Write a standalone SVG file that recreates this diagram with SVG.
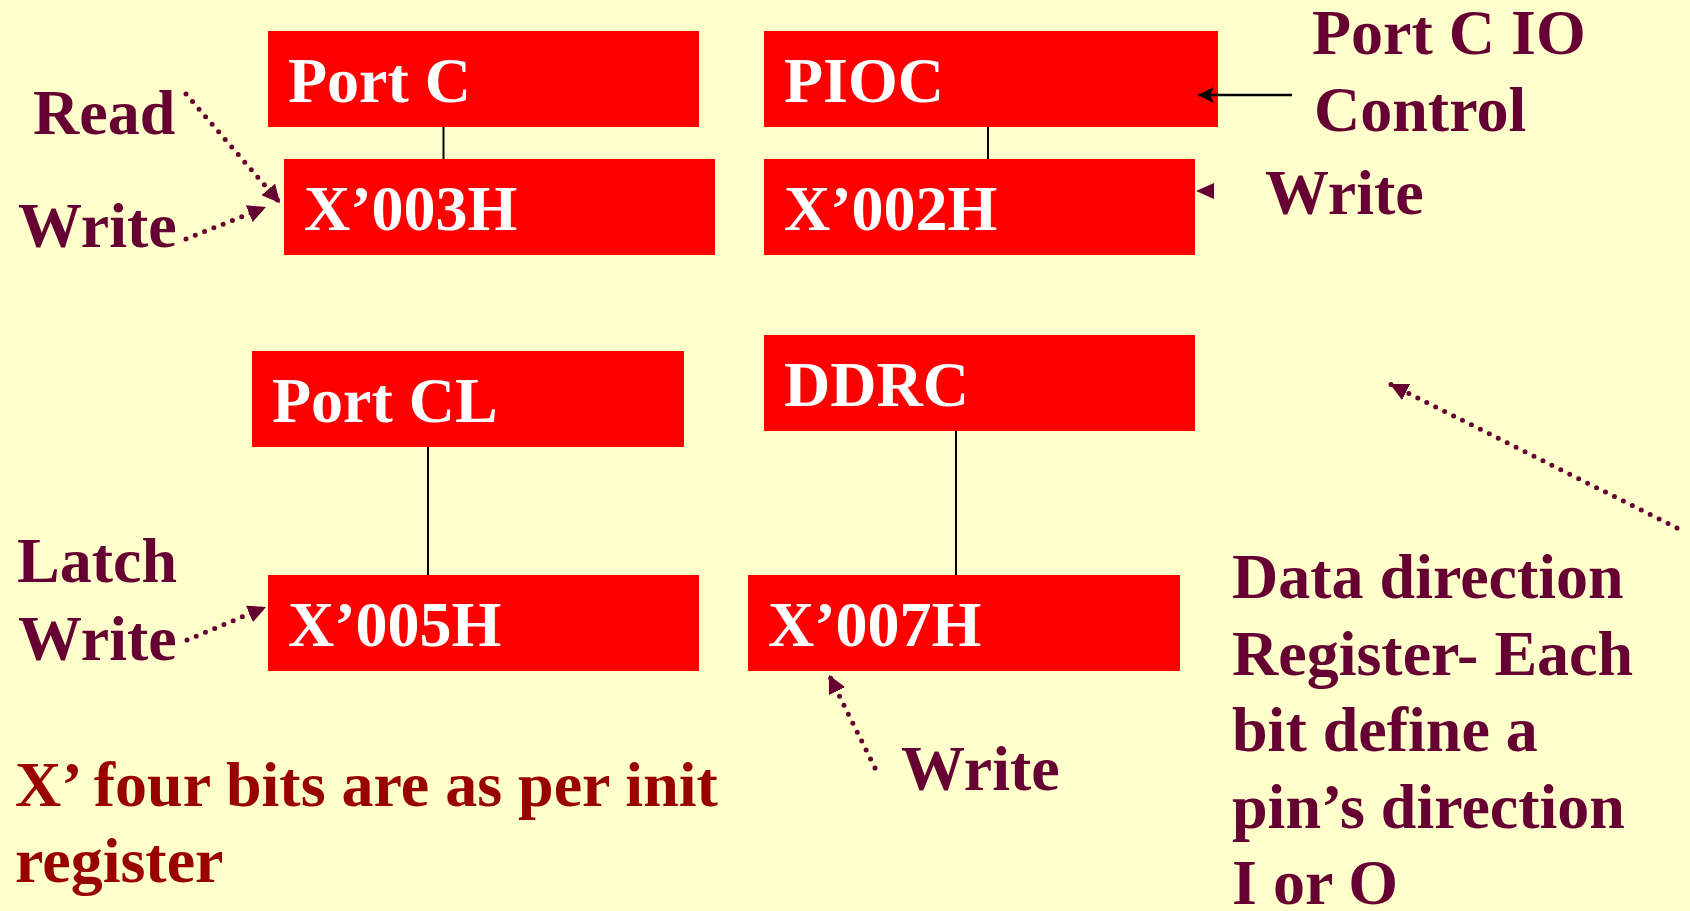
<svg xmlns="http://www.w3.org/2000/svg" width="1690" height="911" viewBox="0 0 1690 911">
<style>
.bg{fill:#FFFFCC}
.box{fill:#FF0000}
.bt{font-family:"Liberation Serif","Times New Roman",serif;font-weight:bold;font-size:64px;fill:#FFFFFF}
.lb{font-family:"Liberation Serif","Times New Roman",serif;font-weight:bold;font-size:64px;fill:#660033}
.note{font-family:"Liberation Serif","Times New Roman",serif;font-weight:bold;font-size:64px;fill:#990000}
.link{stroke:#000000;stroke-width:2;fill:none}
.dot{stroke:#660033;stroke-width:5;stroke-linecap:round;stroke-dasharray:0 10;fill:none}
.solid{stroke:#000000;stroke-width:2.5;fill:none}
</style>
<defs>
<marker id="mh" markerUnits="userSpaceOnUse" markerWidth="20" markerHeight="18" viewBox="0 0 20 18" refX="18" refY="9" orient="auto">
<path d="M0,0 L18,9 L0,18 Z" fill="#660033"/>
</marker>
<marker id="kh" markerUnits="userSpaceOnUse" markerWidth="18" markerHeight="16" viewBox="0 0 18 16" refX="16" refY="8" orient="auto">
<path d="M0,0 L16,8 L0,16 L4,8 Z" fill="#000000"/>
</marker>
</defs>
<rect class="bg" x="0" y="0" width="1690" height="911"/>

<g id="portc">
<rect class="box" x="268" y="31" width="431" height="96"/>
<text class="bt" x="288" y="102">Port C</text>
</g>
<g id="x003h">
<rect class="box" x="284" y="159" width="431" height="96"/>
<text class="bt" x="304" y="230">X’003H</text>
</g>
<g id="pioc">
<rect class="box" x="764" y="31" width="454" height="96"/>
<text class="bt" x="784" y="102">PIOC</text>
</g>
<g id="x002h">
<rect class="box" x="764" y="159" width="431" height="96"/>
<text class="bt" x="784" y="230">X’002H</text>
</g>
<g id="portcl">
<rect class="box" x="252" y="351" width="432" height="96"/>
<text class="bt" x="272" y="422">Port CL</text>
</g>
<g id="x005h">
<rect class="box" x="268" y="575" width="431" height="96"/>
<text class="bt" x="288" y="646">X’005H</text>
</g>
<g id="ddrc">
<rect class="box" x="764" y="335" width="431" height="96"/>
<text class="bt" x="784" y="406">DDRC</text>
</g>
<g id="x007h">
<rect class="box" x="748" y="575" width="432" height="96"/>
<text class="bt" x="768" y="646">X’007H</text>
</g>

<g id="connectors">
<line class="link" x1="443.5" y1="127" x2="443.5" y2="159"/>
<line class="link" x1="988" y1="127" x2="988" y2="159"/>
<line class="link" x1="428" y1="447" x2="428" y2="575"/>
<line class="link" x1="956" y1="431" x2="956" y2="575"/>
<path class="dot" d="M186,94 L280,203" marker-end="url(#mh)"/>
<path class="dot" d="M186,239 L266,207" marker-end="url(#mh)"/>
<path class="dot" d="M187,640 L266,607" marker-end="url(#mh)"/>
<path class="dot" d="M1677,528 L1390,384" marker-end="url(#mh)"/>
<path class="dot" d="M875,768 L829,675" marker-end="url(#mh)"/>
<path class="solid" d="M1292,95 L1198,95" marker-end="url(#kh)"/>
<path d="M1214,183 L1196,191 L1214,199 Z" fill="#660033"/>
</g>

<g id="labels">
<text class="lb" x="33" y="134">Read</text>
<text class="lb" x="18" y="247">Write</text>
<text class="lb" x="1312" y="54">Port C IO</text>
<text class="lb" x="1314" y="131">Control</text>
<text class="lb" x="1265" y="214">Write</text>
<text class="lb" x="17" y="582">Latch</text>
<text class="lb" x="18" y="660">Write</text>
<text class="lb" x="901" y="790">Write</text>
<text class="lb" x="1232" y="598">Data direction</text>
<text class="lb" x="1232" y="675">Register- Each</text>
<text class="lb" x="1232" y="751">bit define a</text>
<text class="lb" x="1232" y="828">pin’s direction</text>
<text class="lb" x="1232" y="904">I or O</text>
<text class="note" x="15" y="806">X’ four bits are as per init</text>
<text class="note" x="15" y="882">register</text>
</g>
</svg>
